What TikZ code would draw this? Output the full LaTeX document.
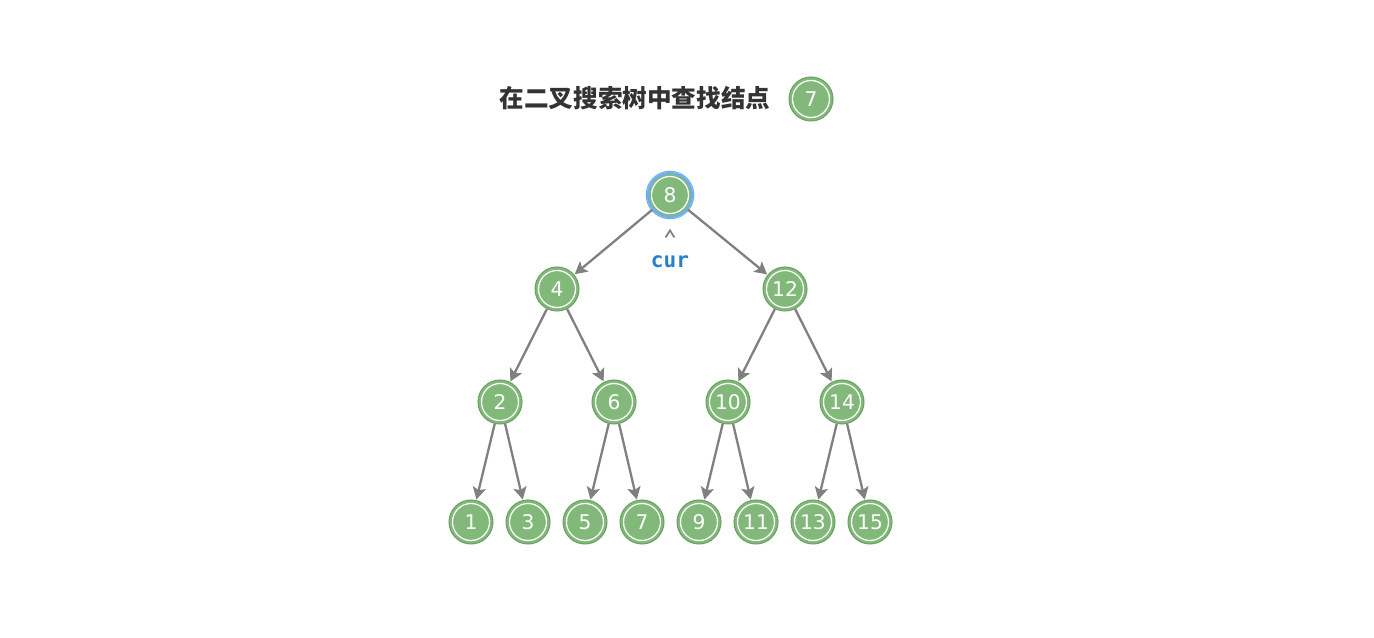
\documentclass[tikz,border=0pt]{standalone}
\usepackage{fontspec}
\setsansfont{DejaVu Sans}
\setmonofont{DejaVu Sans Mono}
\newfontfamily\cjkfont{Noto Sans CJK SC}
\usetikzlibrary{arrows.meta}

\definecolor{nodegreen}{RGB}{130,185,122}
\definecolor{nodeedge}{RGB}{108,163,100}
\definecolor{edgegray}{RGB}{128,128,128}
\definecolor{curblue}{RGB}{42,128,200}
\definecolor{ringblue}{RGB}{110,175,235}
\definecolor{titlegray}{RGB}{51,51,51}

\tikzset{
  treenode/.style={circle, fill=nodegreen, draw=nodeedge, line width=0.6pt,
    minimum size=0.88cm, inner sep=0pt, text=white, font=\sffamily\fontsize{11.5}{11.5}\selectfont,
    path picture={\draw[white, line width=0.7pt] (path picture bounding box.center) circle (0.37cm);}},
  treeedge/.style={edgegray, line width=1.3pt, -{Stealth[length=7pt, width=7.5pt, inset=1.5pt]}, shorten >=0.3pt}
}

\begin{document}
\begin{tikzpicture}[x=0.02cm, y=-0.02cm]
      \useasboundingbox[fill=white] (0,0) rectangle (1374,638);

      % Title
      \node (title) [text=titlegray, font=\cjkfont\bfseries\fontsize{14}{14}\selectfont] at (635,98) {在二叉搜索树中查找结点};
      \node (target) [treenode] at (811,99) {7};

      % Root and inner levels
      \node (n8) [treenode, draw=ringblue, line width=1.3pt] at (670,195) {8};
      \draw[ringblue, line width=0.6pt] (n8.center) circle (0.475cm);
      \foreach \v/\x in {4/557, 12/785} {
          \node (n\v) [treenode] at (\x,289) {\v};
        }
      \foreach \v/\x in {2/500, 6/614, 10/728, 14/842} {
          \node (n\v) [treenode] at (\x,402) {\v};
        }

      % Leaves
      \foreach \v/\x in {1/471, 3/528, 5/585, 7/642, 9/699, 11/756, 13/813, 15/870} {
          \node (n\v) [treenode] at (\x,522) {\v};
        }

      % Edges
      \foreach \p/\c in {8/4, 8/12, 4/2, 4/6, 12/10, 12/14, 2/1, 2/3, 6/5, 6/7, 10/9, 10/11, 14/13, 14/15} {
          \draw[treeedge] (n\p) -- (n\c);
        }

      % Pointer
      \node (cur) [text=curblue, font=\ttfamily\bfseries\fontsize{12}{12}\selectfont] at (670,262) {cur};
      \draw[edgegray, line width=1pt] ([xshift=-2.5pt, yshift=7pt]cur.north) -- ([yshift=11pt]cur.north) -- ([xshift=2.5pt, yshift=7pt]cur.north);
\end{tikzpicture}
\end{document}
